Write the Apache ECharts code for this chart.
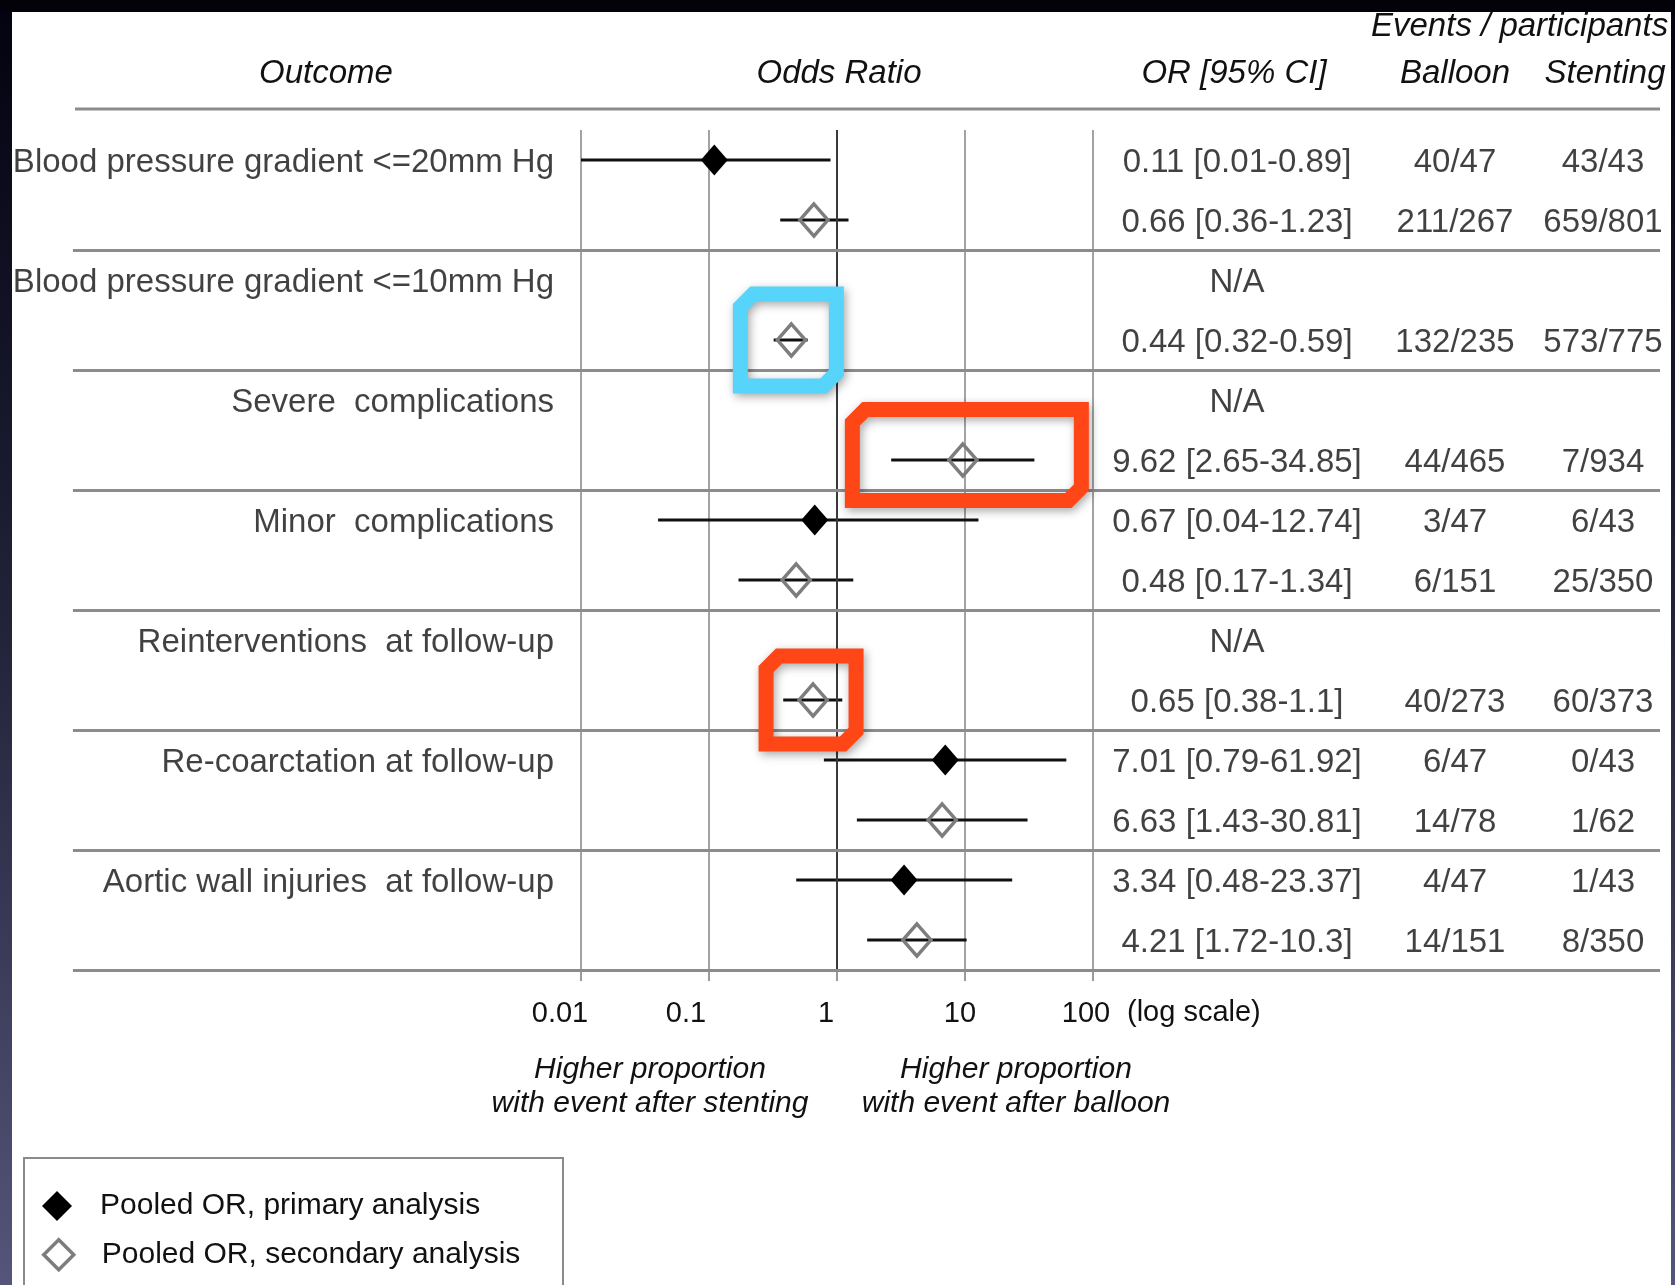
<!DOCTYPE html>
<html>
<head>
<meta charset="utf-8">
<script src="https://cdn.jsdelivr.net/npm/echarts@6/dist/echarts.min.js"></script>
<style>
html, body { margin: 0; padding: 0; background: #fff; }
#chart { width: 1675px; height: 1285px; }
</style>
</head>
<body>
<div id="chart"></div>
<script>
// ---------------- DATA ----------------
const outcomes = [
  'Blood pressure gradient <=20mm Hg',
  'Blood pressure gradient <=10mm Hg',
  'Severe  complications',
  'Minor  complications',
  'Reinterventions  at follow-up',
  'Re-coarctation at follow-up',
  'Aortic wall injuries  at follow-up'
];
// primary analysis (null = N/A)
const primaryOR   = [0.11, null, null, 0.67, null, 7.01, 3.34];
const primaryLow  = [0.01, null, null, 0.04, null, 0.79, 0.48];
const primaryHigh = [0.89, null, null, 12.74, null, 61.92, 23.37];
const primaryBalloon  = ['40/47', '', '', '3/47', '', '6/47', '4/47'];
const primaryStenting = ['43/43', '', '', '6/43', '', '0/43', '1/43'];
// secondary analysis
const secondaryOR   = [0.66, 0.44, 9.62, 0.48, 0.65, 6.63, 4.21];
const secondaryLow  = [0.36, 0.32, 2.65, 0.17, 0.38, 1.43, 1.72];
const secondaryHigh = [1.23, 0.59, 34.85, 1.34, 1.1, 30.81, 10.3];
const secondaryBalloon  = ['211/267', '132/235', '44/465', '6/151', '40/273', '14/78', '14/151'];
const secondaryStenting = ['659/801', '573/775', '7/934', '25/350', '60/373', '1/62', '8/350'];
const tickLabels = ['0.01', '0.1', '1', '10', '100'];
const seriesNames = ['Pooled OR, primary analysis', 'Pooled OR, secondary analysis'];
const headerLabels = ['Outcome', 'Odds Ratio', 'OR [95% CI]', 'Balloon', 'Stenting', 'Events / participants'];
const axisNote = '(log scale)';
const directionNotes = [['Higher proportion', 'with event after stenting'], ['Higher proportion', 'with event after balloon']];
// groups that are highlighted in the reference (index into outcomes, secondary row)
const highlightGroups = [1, 2, 4];

// ---------------- LAYOUT / STYLE ----------------
const FONT = '"Liberation Sans", Arial, Helvetica, sans-serif';
const TXT = '#111';
const X_OUTCOME = 554, X_OR = 1237, X_BAL = 1455, X_STENT = 1603;
const LINE_L = 73, LINE_R = 1660;
const tickShift = [21, 23, 11, 5, 7];
const hlStyle = [
  { color: '#57d4f9', w: 111, h: 107, dx: -3, dy: 0 },
  { color: '#ff4617', w: 244, h: 106, dx: 4, dy: -5 },
  { color: '#ff4617', w: 105, h: 103, dx: -2, dy: 0 }
];

const primRow = g => 2 * g + 1;
const secRow = g => 2 * g + 2;

const ciData = [];
const primData = [];
const secData = [];
outcomes.forEach((o, g) => {
  if (primaryOR[g] != null) {
    ciData.push([primaryLow[g], primaryHigh[g], primRow(g)]);
    primData.push([primaryOR[g], primRow(g)]);
  }
  ciData.push([secondaryLow[g], secondaryHigh[g], secRow(g)]);
  secData.push([secondaryOR[g], secRow(g)]);
});

const outcomeText = outcomes.map((o, g) => ({ value: [X_OUTCOME, primRow(g)], name: o }));
const orText = [];
const balText = [];
const stentText = [];
outcomes.forEach((o, g) => {
  orText.push({ value: [X_OR, primRow(g)], name: primaryOR[g] == null ? 'N/A' : `${primaryOR[g]} [${primaryLow[g]}-${primaryHigh[g]}]` });
  orText.push({ value: [X_OR, secRow(g)], name: `${secondaryOR[g]} [${secondaryLow[g]}-${secondaryHigh[g]}]` });
  if (primaryBalloon[g]) balText.push({ value: [X_BAL, primRow(g)], name: primaryBalloon[g] });
  balText.push({ value: [X_BAL, secRow(g)], name: secondaryBalloon[g] });
  if (primaryStenting[g]) stentText.push({ value: [X_STENT, primRow(g)], name: primaryStenting[g] });
  stentText.push({ value: [X_STENT, secRow(g)], name: secondaryStenting[g] });
});

const sepLines = [];
for (let g = 1; g <= outcomes.length; g++) {
  const y = 2 * g + 0.5;
  sepLines.push([{ coord: [LINE_L, y] }, { coord: [LINE_R, y] }]);
}

function textSeries(name, data, align) {
  return {
    name, type: 'scatter', xAxisIndex: 1, yAxisIndex: 1, symbolSize: 0, silent: true, z: 5,
    data,
    label: {
      show: true, position: [0, 0], offset: [0, 3], align, verticalAlign: 'middle',
      formatter: '{b}', fontSize: 33, fontFamily: FONT, color: TXT
    }
  };
}

const legendItems = [
  { name: seriesNames[0], icon: 'diamond', itemStyle: { color: '#000', borderWidth: 0 } },
  { name: seriesNames[1], icon: 'diamond', itemStyle: { color: 'rgba(255,255,255,0)', borderColor: '#7d7d7d', borderWidth: 3.5 } }
];
const legendTop = [1191, 1238];

const chart = echarts.init(document.getElementById('chart'));
const option = {
  backgroundColor: '#ffffff',
  animation: false,
  grid: [
    { left: 581, width: 512, top: 130, height: 840 },
    { left: 0, width: 1675, top: 130, height: 840 }
  ],
  xAxis: [
    {
      type: 'log', logBase: 10, min: 0.01, max: 100, gridIndex: 0,
      axisLine: { show: false },
      axisTick: { show: true, length: 11, lineStyle: { color: '#999', width: 2 } },
      splitLine: { show: true, lineStyle: { color: '#a3a3a3', width: 2 } },
      axisLabel: {
        margin: 29,
        formatter: v => {
          const i = Math.round(Math.log10(v)) + 2;
          return '{s' + i + '|' + tickLabels[i] + '}';
        },
        rich: Object.fromEntries(tickShift.map((s, i) => ['s' + i, { padding: [0, 2 * s, 0, 0], fontSize: 29, fontFamily: FONT, color: TXT }]))
      }
    },
    { type: 'value', min: 0, max: 1675, gridIndex: 1, show: false }
  ],
  yAxis: [
    { type: 'value', inverse: true, min: 0.5, max: 14.5, gridIndex: 0, show: false },
    { type: 'value', inverse: true, min: 0.5, max: 14.5, gridIndex: 1, show: false }
  ],
  legend: legendItems.map((it, i) => ({
    left: 42, top: legendTop[i], padding: 0,
    itemWidth: 30, itemHeight: 30, selectedMode: false,
    textStyle: { fontSize: 30, fontFamily: FONT, color: TXT, padding: [0, 0, 0, 23] },
    data: [it]
  })),
  series: [
    {
      name: 'CI', type: 'custom', xAxisIndex: 0, yAxisIndex: 0, z: 3, silent: true,
      data: ciData,
      encode: { x: [0, 1], y: 2 },
      renderItem: (params, api) => {
        const a = api.coord([api.value(0), api.value(2)]);
        const b = api.coord([api.value(1), api.value(2)]);
        return { type: 'line', shape: { x1: a[0], y1: a[1], x2: b[0], y2: b[1] }, style: { stroke: '#111', lineWidth: 3 } };
      },
      markLine: {
        silent: true, symbol: 'none', label: { show: false },
        lineStyle: { color: '#3a3a3a', width: 2, type: 'solid' },
        data: [{ xAxis: 1 }]
      }
    },
    {
      name: seriesNames[0], type: 'scatter', xAxisIndex: 0, yAxisIndex: 0, z: 4, silent: true,
      symbol: 'diamond', symbolSize: [27, 31],
      itemStyle: { color: '#000', opacity: 1 },
      data: primData
    },
    {
      name: seriesNames[1], type: 'scatter', xAxisIndex: 0, yAxisIndex: 0, z: 4, silent: true,
      symbol: 'diamond', symbolSize: [28, 32],
      itemStyle: { color: 'rgba(255,255,255,0)', borderColor: '#7d7d7d', borderWidth: 3.5, opacity: 1 },
      data: secData
    },
    Object.assign(textSeries('outcomeText', outcomeText, 'right'), {
      markLine: {
        silent: true, symbol: 'none', label: { show: false },
        lineStyle: { color: '#8c8c8c', width: 3, type: 'solid' },
        data: sepLines
      }
    }),
    textSeries('orText', orText, 'center'),
    textSeries('balloonText', balText, 'center'),
    textSeries('stentingText', stentText, 'center')
  ]
};
chart.setOption(option);

// ---------------- ANNOTATIONS / FRAME ----------------
const graphics = [];
const hFont = 'italic 33px ' + FONT;
const headerPos = [[326, 74, 'center'], [839, 74, 'center'], [1234, 74, 'center'], [1455, 74, 'center'], [1605, 74, 'center'], [1371, 27, 'left']];
headerLabels.forEach((t, i) => {
  graphics.push({ type: 'text', z: 20, silent: true, style: { text: t, x: headerPos[i][0], y: headerPos[i][1], align: headerPos[i][2], verticalAlign: 'middle', font: hFont, fill: TXT } });
});
graphics.push({ type: 'line', z: 20, silent: true, shape: { x1: 75, y1: 109, x2: LINE_R, y2: 109 }, style: { stroke: '#8c8c8c', lineWidth: 3 } });
graphics.push({ type: 'text', z: 20, silent: true, style: { text: axisNote, x: 1127, y: 1013, align: 'left', verticalAlign: 'middle', font: '29px ' + FONT, fill: TXT } });
const noteX = [650, 1016];
directionNotes.forEach((lines, i) => {
  lines.forEach((t, j) => {
    graphics.push({ type: 'text', z: 20, silent: true, style: { text: t, x: noteX[i], y: 1070 + j * 34, align: 'center', verticalAlign: 'middle', font: 'italic 30px ' + FONT, fill: TXT } });
  });
});

// legend frame
graphics.push({ type: 'rect', z: 20, silent: true, shape: { x: 24, y: 1158, width: 539, height: 160 }, style: { fill: 'none', stroke: '#8a8a8a', lineWidth: 2 } });

// highlight boxes, centred on the secondary estimates
highlightGroups.forEach((g, i) => {
  const st = hlStyle[i];
  const p = chart.convertToPixel({ gridIndex: 0 }, [secondaryOR[g], secRow(g)]);
  const sw = 15, c = 13;
  const cx = p[0] + st.dx, cy = p[1] + st.dy;
  const x0 = cx - st.w / 2 + sw / 2, x1 = cx + st.w / 2 - sw / 2;
  const y0 = cy - st.h / 2 + sw / 2, y1 = cy + st.h / 2 - sw / 2;
  graphics.push({
    type: 'polygon', z: 50, silent: true,
    shape: { points: [[x0 + c, y0], [x1, y0], [x1, y1 - c], [x1 - c, y1], [x0, y1], [x0, y0 + c]] },
    style: { fill: 'none', stroke: st.color, lineWidth: sw, lineJoin: 'miter', shadowBlur: 10, shadowColor: 'rgba(0,0,0,0.35)', shadowOffsetX: 2, shadowOffsetY: 3 }
  });
});

// slide frame
const bandGrad = new echarts.graphic.LinearGradient(0, 0, 0, 1, [
  { offset: 0, color: '#020210' }, { offset: 0.5, color: '#23233a' }, { offset: 1, color: '#55557a' }
]);
graphics.push({ type: 'rect', z: 100, silent: true, shape: { x: 0, y: 0, width: 12, height: 1285 }, style: { fill: bandGrad } });
graphics.push({ type: 'rect', z: 100, silent: true, shape: { x: 1671, y: 0, width: 4, height: 1285 }, style: { fill: bandGrad } });
graphics.push({ type: 'rect', z: 100, silent: true, shape: { x: 0, y: 0, width: 1675, height: 12 }, style: { fill: '#020208' } });

chart.setOption({ graphic: graphics });
</script>
</body>
</html>
